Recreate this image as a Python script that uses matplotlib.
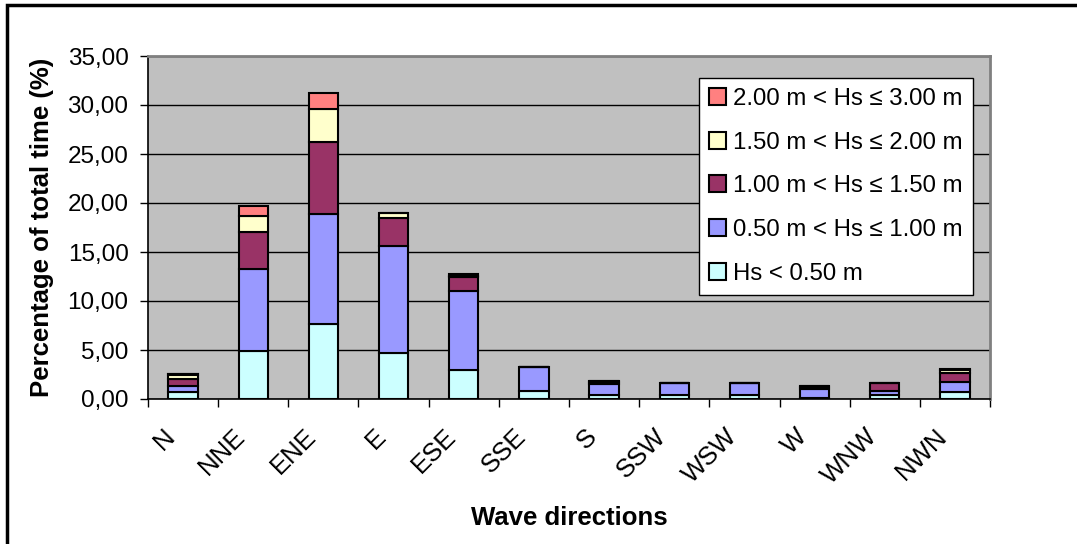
import matplotlib
matplotlib.use("Agg")
import matplotlib.pyplot as plt
from matplotlib.patches import Rectangle
from matplotlib.ticker import FuncFormatter, FixedLocator
from matplotlib.transforms import ScaledTranslation
import numpy as np

plt.rcParams['font.family'] = ['Liberation Sans', 'DejaVu Sans']

directions = ["N", "NNE", "ENE", "E", "ESE", "SSE", "S", "SSW", "WSW", "W", "WNW", "NWN"]

hs_below_050 = [0.70, 4.90, 7.70, 4.70, 3.00, 0.85, 0.40, 0.45, 0.45, 0.10, 0.45, 0.70]
hs_050_100 = [0.65, 8.40, 11.20, 10.95, 8.00, 2.45, 1.10, 1.20, 1.20, 0.90, 0.35, 1.05]
hs_100_150 = [0.70, 3.75, 7.35, 2.80, 1.40, 0.00, 0.20, 0.00, 0.00, 0.25, 0.80, 0.90]
hs_150_200 = [0.45, 1.65, 3.30, 0.50, 0.20, 0.00, 0.10, 0.00, 0.00, 0.10, 0.05, 0.30]
hs_200_300 = [0.05, 0.95, 1.65, 0.05, 0.15, 0.00, 0.05, 0.00, 0.00, 0.00, 0.00, 0.08]

series = [
    ("Hs < 0.50 m", hs_below_050, "#CCFFFF"),
    ("0.50 m < Hs \u2264 1.00 m", hs_050_100, "#9999FF"),
    ("1.00 m < Hs \u2264 1.50 m", hs_100_150, "#993366"),
    ("1.50 m < Hs \u2264 2.00 m", hs_150_200, "#FFFFCC"),
    ("2.00 m < Hs \u2264 3.00 m", hs_200_300, "#FF8080"),
]

fig = plt.figure(figsize=(10.77, 5.44), dpi=100)
ax = fig.add_axes([148 / 1077, 1 - 399 / 544, 842 / 1077, 343 / 544])
ax.set_facecolor("#C0C0C0")

x = np.arange(len(directions))
bottom = np.zeros(len(directions))
handles = []
for label, vals, color in series:
    vals = np.array(vals)
    b = ax.bar(x, vals, width=0.42, bottom=bottom, color=color,
               edgecolor="black", linewidth=1.5, label=label, zorder=3)
    handles.append(b)
    bottom += vals

ax.set_xlim(-0.5, len(directions) - 0.5)
ax.set_ylim(0, 35)

ax.yaxis.set_major_locator(FixedLocator(np.arange(0, 36, 5)))
ax.yaxis.set_major_formatter(FuncFormatter(lambda v, p: f"{v:.2f}".replace(".", ",")))
ax.grid(axis="y", color="black", linewidth=1.0, zorder=1)
ax.set_axisbelow(True)

ax.set_xticks(np.arange(-0.5, len(directions), 1.0))
ax.set_xticklabels([])
ax.tick_params(axis="x", which="major", length=6, width=1, color="black")
ax.set_xticks(x, minor=True)
ax.set_xticklabels(directions, minor=True, rotation=45, ha="right", va="top",
                   rotation_mode="anchor", fontsize=18.5)
ax.tick_params(axis="x", which="minor", length=0, pad=18)
shift = ScaledTranslation(-20 / 100, 0, fig.dpi_scale_trans)
for lab in ax.get_xticklabels(minor=True):
    lab.set_transform(lab.get_transform() + shift)
ax.tick_params(axis="y", length=6, width=1, labelsize=17.5, pad=8)

for side in ("left", "bottom"):
    ax.spines[side].set_color("black")
    ax.spines[side].set_linewidth(1.2)
for side in ("right", "top"):
    ax.spines[side].set_color("#808080")
    ax.spines[side].set_linewidth(2)

ax.set_ylabel("Percentage of total time (%)", fontsize=18.5, fontweight="bold", labelpad=10)
fig.text(569 / 1077, 1 - 518 / 544, "Wave directions", fontsize=18.5, fontweight="bold",
         ha="center", va="center")

leg = ax.legend(handles[::-1], [s[0] for s in series][::-1], loc="upper left",
                bbox_to_anchor=(0.654, 0.936), borderaxespad=0, fontsize=17.3,
                frameon=True, fancybox=False, edgecolor="black", framealpha=1,
                handlelength=0.7, handleheight=0.7, handletextpad=0.3,
                labelspacing=0.9, borderpad=0.42)
leg.get_frame().set_linewidth(1.0)
for h in leg.legend_handles:
    h.set_linewidth(1.5)

# outer frame of the figure (open on the right and bottom)
fig.add_artist(Rectangle((7 / 1077, -0.1), 1.2, 1 - 5 / 544 + 0.1,
                         transform=fig.transFigure, fill=False,
                         edgecolor="black", linewidth=2.5))

fig.savefig("out.png", dpi=100)
